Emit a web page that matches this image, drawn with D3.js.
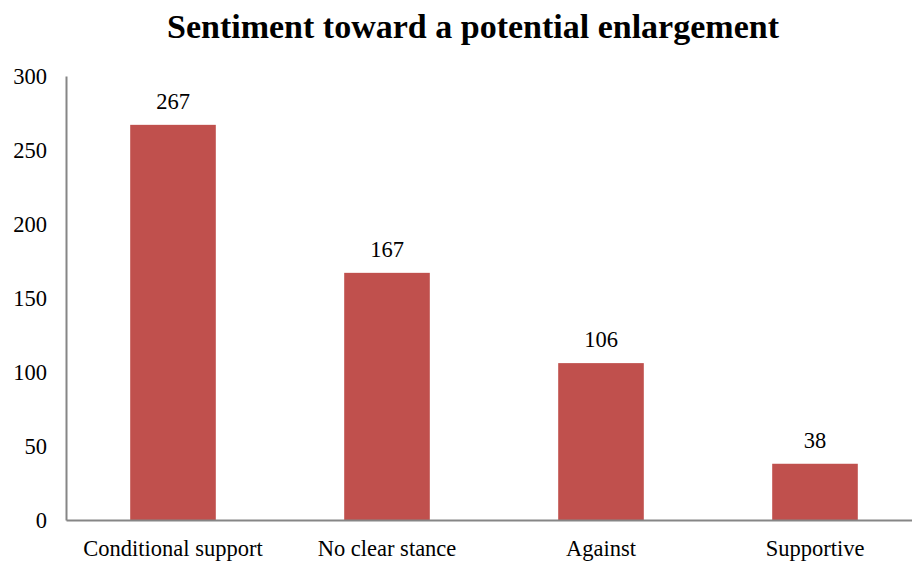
<!DOCTYPE html>
<html><head><meta charset="utf-8">
<script src="https://cdn.jsdelivr.net/npm/d3@7"></script>
<style>body{margin:0;background:#fff;} svg{display:block;}</style>
</head><body>
<script>
const categories = ["Conditional support", "No clear stance", "Against", "Supportive"];
const values = [267, 167, 106, 38];
const yTicks = [0, 50, 100, 150, 200, 250, 300];
const title = "Sentiment toward a potential enlargement";

const W = 912, H = 561;
const margin = {left: 66, top: 76, bottom: 41};
const svg = d3.select("body").append("svg").attr("width", W).attr("height", H);
const font = "'Liberation Serif', serif";

const x = d3.scaleBand().domain(categories).range([margin.left, margin.left + 4 * 214])
  .paddingInner(0.6).paddingOuter(0.3);
const y = d3.scaleLinear().domain([0, 300]).range([H - margin.bottom, margin.top]);

svg.append("text").attr("x", 473).attr("y", 38).attr("text-anchor", "middle")
  .attr("font-family", font).attr("font-weight", "bold").attr("font-size", 34).attr("fill", "#000").text(title);

svg.selectAll("rect.bar").data(values).join("rect").attr("class", "bar")
  .attr("x", (d, i) => x(categories[i])).attr("width", x.bandwidth())
  .attr("y", d => y(d)).attr("height", d => y(0) - y(d)).attr("fill", "#C0504D");

svg.selectAll("text.val").data(values).join("text").attr("class", "val")
  .attr("x", (d, i) => x(categories[i]) + x.bandwidth() / 2).attr("y", d => y(d) - 16)
  .attr("text-anchor", "middle").attr("font-family", font).attr("font-size", 22.5).attr("fill", "#000").text(d => d);

const yAxis = svg.append("g").attr("transform", `translate(${margin.left},0)`)
  .call(d3.axisLeft(y).tickValues(yTicks).tickSize(0).tickPadding(19));
const xAxis = svg.append("g").attr("transform", `translate(0,${y(0)})`)
  .call(d3.axisBottom(x).tickSize(0).tickPadding(20));
[yAxis, xAxis].forEach(g => {
  g.select(".domain").attr("stroke", "#868686").attr("stroke-width", 2);
  g.selectAll("text").attr("font-family", font).attr("font-size", 22.5).attr("fill", "#000");
});
</script>
</body></html>
